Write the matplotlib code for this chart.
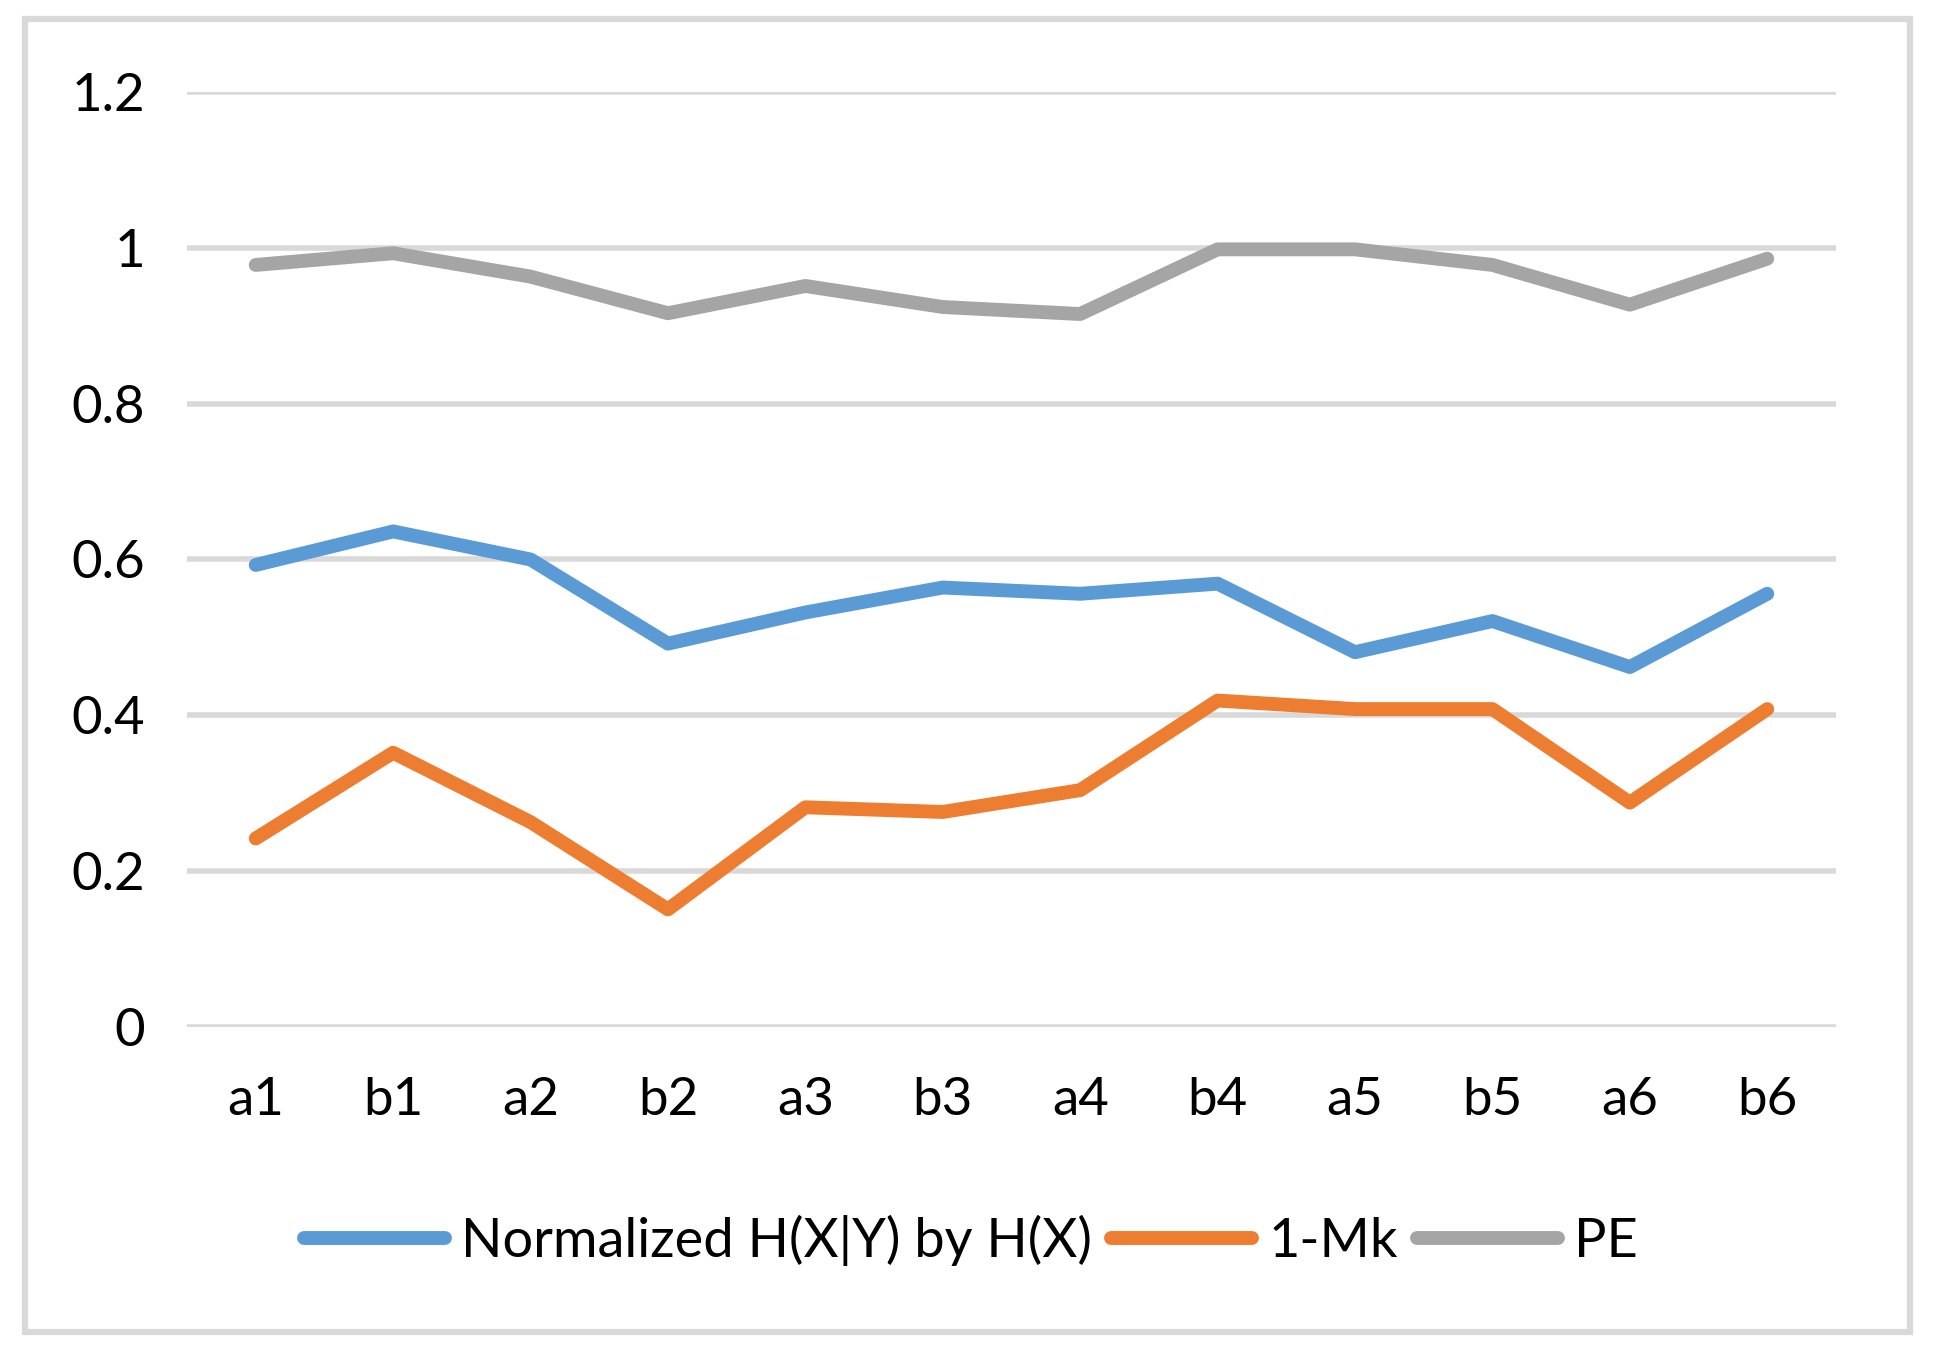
import matplotlib
matplotlib.use("Agg")
import matplotlib.pyplot as plt
from matplotlib.patches import Rectangle

plt.rcParams['font.family'] = ['Lato', 'DejaVu Sans']

labels = ['a1', 'b1', 'a2', 'b2', 'a3', 'b3', 'a4', 'b4', 'a5', 'b5', 'a6', 'b6']
norm_h = [0.593, 0.636, 0.600, 0.492, 0.532, 0.564, 0.556, 0.569, 0.481, 0.521, 0.462, 0.556]
one_mk = [0.242, 0.352, 0.263, 0.151, 0.282, 0.276, 0.304, 0.419, 0.408, 0.408, 0.288, 0.408]
pe = [0.978, 0.993, 0.963, 0.916, 0.951, 0.924, 0.915, 0.998, 0.998, 0.978, 0.927, 0.986]
yticks = [0, 0.2, 0.4, 0.6, 0.8, 1.0, 1.2]
ytick_labels = ['0', '0.2', '0.4', '0.6', '0.8', '1', '1.2']

fig = plt.figure(figsize=(19.42, 13.56), dpi=100)
ax = fig.add_axes([0.0963, 0.2426, 0.8491, 0.6896])

x = list(range(len(labels)))
ax.plot(x, norm_h, color='#5B9BD5', lw=10, solid_capstyle='round', label='Normalized H(X|Y) by H(X)')
ax.plot(x, one_mk, color='#ED7D31', lw=10, solid_capstyle='round', label='1-Mk')
ax.plot(x, pe, color='#A5A5A5', lw=10, solid_capstyle='round', label='PE')

ax.set_xlim(-0.5, len(labels) - 0.5)
ax.set_ylim(0, 1.2)
ax.set_yticks(yticks)
ax.set_yticklabels(ytick_labels)
ax.set_xticks(x)
ax.set_xticklabels(labels)
ax.grid(axis='y', color='#D9D9D9', lw=4)
ax.set_axisbelow(True)
for s in ax.spines.values():
    s.set_visible(False)
ax.tick_params(axis='both', length=0, labelsize=38, colors='black')
ax.tick_params(axis='y', pad=30)
ax.tick_params(axis='x', pad=36)

fig.legend(loc='center', bbox_to_anchor=(0.5, 1 - 1240/1356), ncol=3, frameon=False,
           fontsize=39, handlelength=2.6, handletextpad=0.3, columnspacing=0.35)

# outer chart border
fig.patches.append(Rectangle((24.5/1942, 1 - 1332/1356), (1909.5 - 24.5)/1942, (1332 - 19)/1356,
                             transform=fig.transFigure, fill=False, edgecolor='#D9D9D9', lw=4.5))

fig.savefig('out.png', dpi=100)
